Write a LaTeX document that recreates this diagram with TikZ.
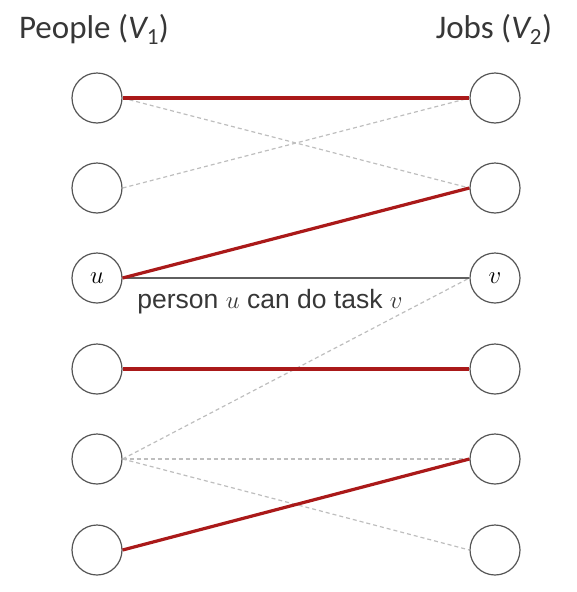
\documentclass[tikz,border=0pt]{standalone}
\usepackage{fontspec}
\setmainfont{Carlito}
\newfontfamily\arialfont{Liberation Sans}
\definecolor{matchred}{RGB}{170,25,25}
\definecolor{ringgray}{RGB}{85,85,85}
\definecolor{dashgray}{RGB}{190,190,190}
\definecolor{edgegray}{RGB}{95,95,95}
\definecolor{txtgray}{RGB}{55,55,55}
\begin{document}
\begin{tikzpicture}[x=1pt,y=-1pt,
  vert/.style={circle,draw=ringgray,line width=1.2pt,minimum size=50pt,inner sep=0pt,font=\fontsize{23}{23}\selectfont},
  matched/.style={draw=matchred,line width=3.2pt},
  cand/.style={draw=dashgray,line width=1.2pt,dash pattern=on 4pt off 3pt},
  plain/.style={draw=edgegray,line width=2pt},
  header/.style={font=\fontsize{33}{33}\selectfont,text=txtgray,inner sep=0pt}
  ]
\useasboundingbox (0,0) rectangle (576,592);
\node[header,anchor=base] (h1) at (94,38) {People ({\itshape V}\textsubscript{1})};
\node[header,anchor=base] (h2) at (494,38) {Jobs ({\itshape V}\textsubscript{2})};
\foreach \i/\y in {1/98,2/188,4/369,5/459,6/550}{
  \node[vert] (l\i) at (97,\y) {};
  \node[vert] (r\i) at (495,\y) {};
}
\node[vert] (l3) at (97,278) {$u$};
\node[vert] (r3) at (495,278) {$v$};
\draw[cand] (l1.east) -- (r2.west);
\draw[cand] (l2.east) -- (r1.west);
\draw[cand] (l5.east) -- (r3.west);
\draw[cand] (l5.east) -- (r5.west);
\draw[cand] (l5.east) -- (r6.west);
\draw[plain] (l3.east) -- (r3.west);
\draw[matched] (l1.east) -- (r1.west);
\draw[matched] (l3.east) -- (r2.west);
\draw[matched] (l4.east) -- (r4.west);
\draw[matched] (l6.east) -- (r5.west);
\node[font=\arialfont\fontsize{26.5}{26.5}\selectfont,text=txtgray,anchor=base,inner sep=0pt] (lab) at (270,308) {person $u$ can do task $v$};
\end{tikzpicture}
\end{document}
